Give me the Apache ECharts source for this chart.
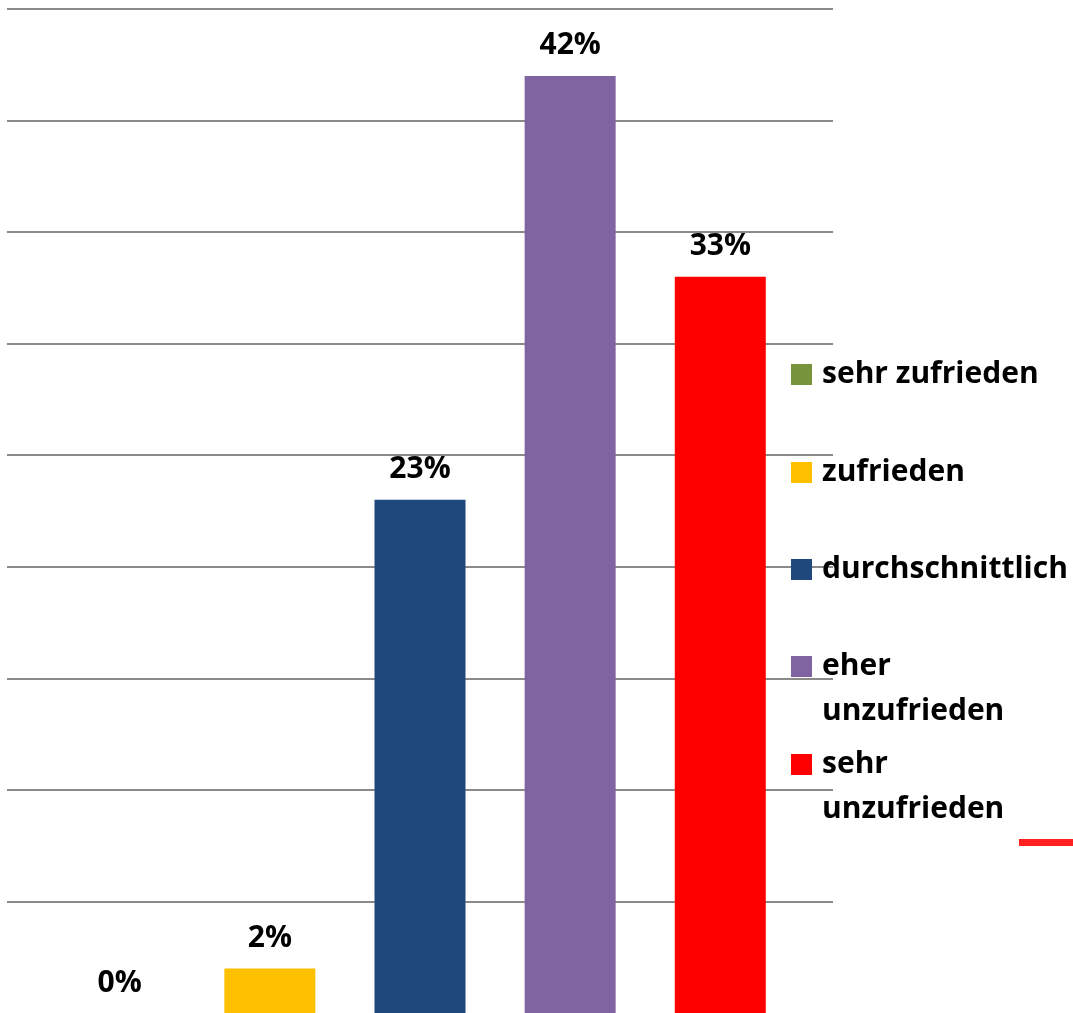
<!DOCTYPE html>
<html>
<head>
<meta charset="utf-8">
<script src="https://cdn.jsdelivr.net/npm/echarts@6/dist/echarts.min.js"></script>
<style>
  html, body { margin: 0; padding: 0; background: #fff; }
  #chart { width: 1073px; height: 1013px; }
</style>
</head>
<body>
<div id="chart"></div>
<script>
// Zufriedenheit – Antworten in Prozent
const answers = ['sehr zufrieden', 'zufrieden', 'durchschnittlich', 'eher unzufrieden', 'sehr unzufrieden'];
// a leading empty line keeps the first line level with the colour box
const legendText = ['sehr zufrieden', 'zufrieden', 'durchschnittlich', '\neher\nunzufrieden', '\nsehr\nunzufrieden'];
const percents = [0, 2, 23, 42, 33];

const palette = ['#77933C', '#FFC000', '#1F497D', '#8064A2', '#FF0000'];
const font = '"Open Sans", "Liberation Sans", sans-serif';

const chart = echarts.init(document.getElementById('chart'));

const legendTops = [352, 450, 547, 599, 697];

const legends = answers.map((name, i) => ({
  show: true,
  left: 791,
  top: legendTops[i],
  padding: 0,
  orient: 'vertical',
  itemWidth: 21,
  itemHeight: 21,
  icon: 'rect',
  selectedMode: false,
  data: [name],
  formatter: () => legendText[i],
  textStyle: {
    fontFamily: font,
    fontWeight: 'bold',
    fontSize: 30,
    lineHeight: 45,
    color: '#000',
    padding: [0, 0, 0, 5]
  }
}));

const option = {
  animation: false,
  backgroundColor: '#fff',
  grid: { left: 7, right: 240, top: 9, bottom: -2 },
  legend: legends,
  xAxis: {
    type: 'category',
    data: [''],
    axisLine: { show: false },
    axisTick: { show: false },
    axisLabel: { show: false },
    splitLine: { show: false }
  },
  yAxis: {
    type: 'value',
    min: 0,
    max: 45,
    interval: 5,
    axisLabel: { show: false },
    axisLine: { show: false },
    axisTick: { show: false },
    splitLine: { showMinLine: false, lineStyle: { color: '#8a8a8a', width: 2 } }
  },
  series: answers.map((name, i) => ({
    name: name,
    type: 'bar',
    data: [percents[i]],
    barWidth: 91,
    barGap: '65%',
    itemStyle: { color: palette[i] },
    label: {
      show: true,
      position: 'top',
      distance: 15,
      formatter: '{c}%',
      fontFamily: font,
      fontWeight: 'bold',
      fontSize: 30,
      color: '#000'
    }
  })),
  graphic: [{
    type: 'rect',
    shape: { x: 1019, y: 839, width: 54, height: 7 },
    style: { fill: '#FF2020' }
  }]
};

chart.setOption(option);
</script>
</body>
</html>
